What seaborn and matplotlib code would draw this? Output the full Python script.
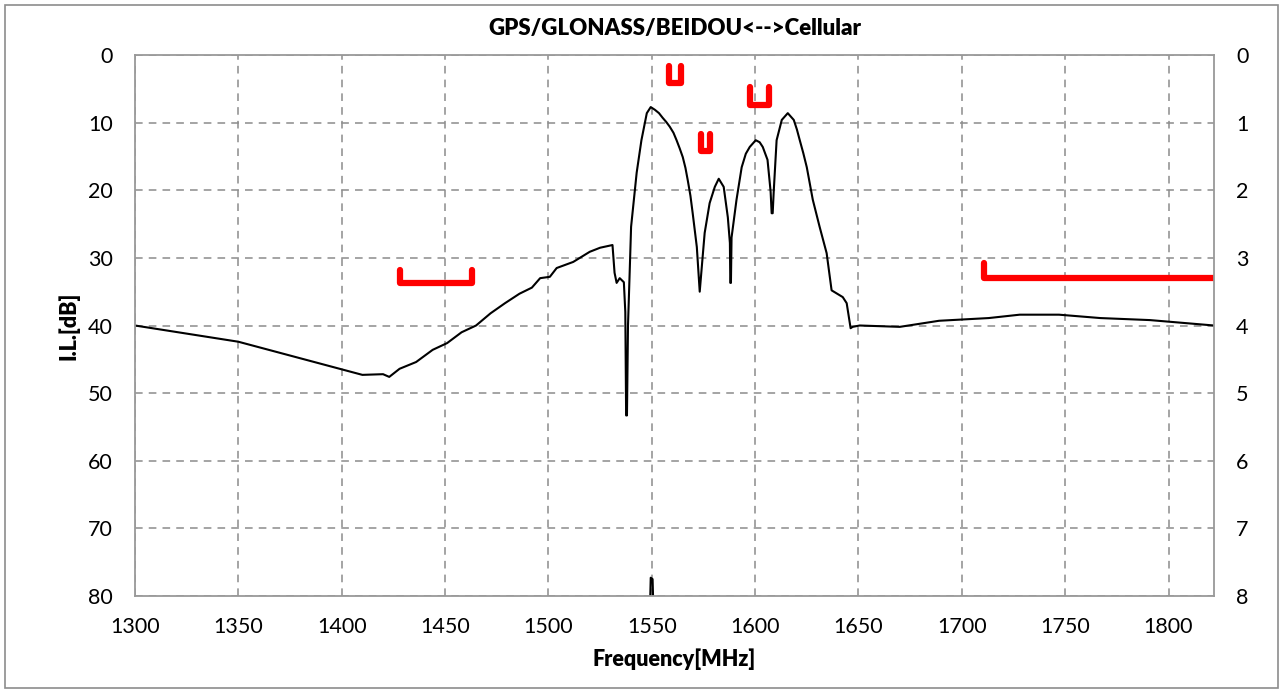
import matplotlib
matplotlib.use("Agg")
import matplotlib.pyplot as plt
import seaborn as sns
import pandas as pd
from matplotlib.patches import Rectangle

# ---- data ----
freq_mhz = [1300, 1350, 1410, 1420, 1423, 1428, 1436, 1444, 1451, 1458, 1465, 1472,
            1479, 1486, 1492, 1496, 1500.7, 1504, 1512, 1520, 1525, 1531, 1532, 1533,
            1534.5, 1536.5, 1537.2, 1537.6, 1538.0, 1538.5, 1539.4, 1540, 1542.7, 1545,
            1547.6, 1549.5, 1551.5, 1553.5, 1555.3, 1557.0, 1558.7, 1560.5, 1562, 1563.5,
            1565, 1566.3, 1567.4, 1568.7, 1569.8, 1571.8,
            1573.2, 1574.6, 1575.6, 1578, 1580.5, 1582.4, 1584.8, 1586.8, 1587.8, 1588.0,
            1588.3, 1588.6, 1591, 1593.5, 1595.5, 1597.4, 1600.3, 1602.2, 1603.7, 1606,
            1607.5, 1608, 1608.5, 1609, 1610.4, 1612.9, 1615.8, 1618.7, 1620.2, 1621.6,
            1623.3, 1625, 1627.9, 1631.2, 1634.6, 1637, 1642.4, 1644.3, 1646.2, 1647.2,
            1650.6, 1670, 1689, 1713, 1728, 1747, 1767, 1791, 1822]
il_db = [40.0, 42.4, 47.3, 47.2, 47.6, 46.4, 45.4, 43.6, 42.6, 41.0, 40.0, 38.2,
         36.7, 35.3, 34.4, 33.0, 32.8, 31.5, 30.6, 29.1, 28.5, 28.1, 32.2, 33.7,
         33.0, 33.6, 38.0, 53.3, 53.3, 40.0, 31.3, 25.4, 17.4, 12.6,
         8.6, 7.7, 8.1, 8.6, 9.3, 9.9, 10.6, 11.5, 12.6, 13.8,
         15.1, 16.7, 18.5, 20.8, 23.4, 28.4,
         35.0, 29.9, 26.3, 21.9, 19.5, 18.3, 19.5, 24.0, 27.8, 33.7,
         33.7, 27.0, 21.4, 16.6, 14.6, 13.6, 12.6, 12.9, 13.6, 15.5,
         20.2, 23.4, 23.4, 20.2, 12.6, 9.6, 8.6, 9.6, 11.0, 12.6,
         14.5, 16.6, 21.4, 25.4, 29.3, 34.8, 35.8, 36.7, 40.4, 40.2,
         40.0, 40.2, 39.3, 38.9, 38.4, 38.4, 38.9, 39.2, 40.0]

# off-scale trace fragment near 1550 MHz at the bottom edge
spike_freq = [1549.2, 1549.5, 1550.4, 1550.7]
spike_il = [81.0, 77.3, 77.5, 81.0]

# specification masks (red brackets): start, stop, level, bracket top
mask_start = [1428, 1558.5, 1573.6, 1597.4, 1710.5]
mask_stop = [1463, 1564.0, 1578.0, 1606.6, 1830]
mask_level = [33.7, 4.1, 14.2, 7.4, 33.0]
mask_top = [31.8, 1.6, 11.7, 4.7, 30.8]

x_ticks = [1300, 1350, 1400, 1450, 1500, 1550, 1600, 1650, 1700, 1750, 1800]
y_ticks = [0, 10, 20, 30, 40, 50, 60, 70, 80]
y2_ticks = [0, 1, 2, 3, 4, 5, 6, 7, 8]

title = "GPS/GLONASS/BEIDOU<-->Cellular"
x_label = "Frequency[MHz]"
y_label = "I.L.[dB]"

# ---- figure ----
sns.set_theme(style="white")
plt.rcParams["font.family"] = ["Lato", "DejaVu Sans"]
plt.rcParams["text.color"] = "black"
plt.rcParams["axes.labelcolor"] = "black"

fig = plt.figure(figsize=(12.83, 6.92), dpi=100)
ax = fig.add_axes([135 / 1283, 1 - 596 / 692, (1214 - 135) / 1283, (596 - 55) / 692])

fig.patches.append(Rectangle((5 / 1283, 4 / 692), 1273 / 1283, 683 / 692,
                             transform=fig.transFigure, fill=False,
                             edgecolor="#8c8c8c", linewidth=1.2))

curve = pd.DataFrame({"f": freq_mhz, "il": il_db})
sns.lineplot(data=curve, x="f", y="il", sort=False, estimator=None,
             color="black", linewidth=1.5, ax=ax)
spike = pd.DataFrame({"f": spike_freq, "il": spike_il})
sns.lineplot(data=spike, x="f", y="il", sort=False, estimator=None,
             color="black", linewidth=1.5, ax=ax)

rows = []
for i, (a, b, lv, tp) in enumerate(zip(mask_start, mask_stop, mask_level, mask_top)):
    for fx, fy, k in [(a, tp, 0), (a, lv, 1), (b, lv, 2), (b, tp, 3)]:
        rows.append({"mask": i, "f": fx, "il": fy, "k": k})
masks = pd.DataFrame(rows)
for i, g in masks.groupby("mask"):
    sns.lineplot(data=g, x="f", y="il", sort=False, estimator=None,
                 color="#ff0000", linewidth=4.5, ax=ax,
                 solid_capstyle="round", solid_joinstyle="round", clip_on=True)

ax.set_xlim(1300, 1822)
ax.set_ylim(80, 0)
ax.set_xticks(x_ticks)
ax.set_yticks(y_ticks)
ax.grid(True, color="#8c8c8c", linestyle=(0, (5, 4)), linewidth=1.1)
for s in ax.spines.values():
    s.set_color("#999999")
    s.set_linewidth(1.3)
ax.tick_params(axis="both", length=0, labelsize=15.5, colors="black")
ax.tick_params(axis="y", pad=16)
ax.tick_params(axis="x", pad=15)

ax2 = ax.twinx()
ax2.set_ylim(8, 0)
ax2.set_yticks(y2_ticks)
ax2.grid(False)
ax2.tick_params(axis="y", length=0, labelsize=15.5, pad=16, colors="black")
for s in ax2.spines.values():
    s.set_visible(False)

ax.set_title(title, fontsize=16, fontweight="heavy", pad=14.5, color="black")
ax.set_xlabel(x_label, fontsize=15.5, fontweight="heavy", labelpad=8, color="black")
ax.set_ylabel(y_label, fontsize=15.5, fontweight="heavy", labelpad=6, color="black")

fig.savefig("out.png", dpi=100)
